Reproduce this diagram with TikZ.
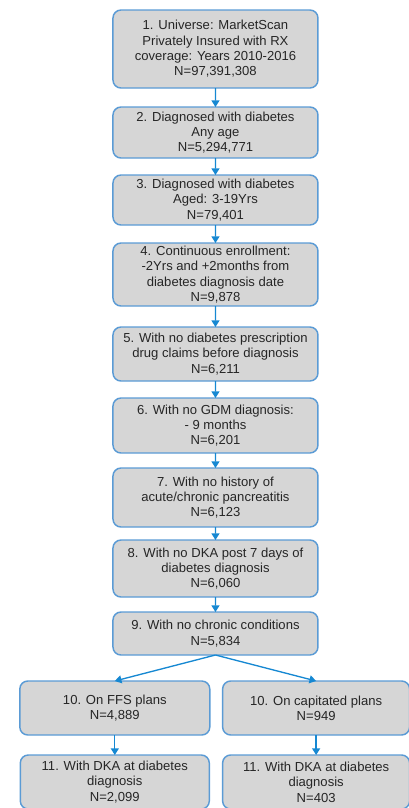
\documentclass[tikz,border=0pt]{standalone}
\usepackage{fontspec}
\setmainfont{Liberation Sans}
\usetikzlibrary{arrows.meta}
\definecolor{boxgray}{RGB}{214,214,214}
\definecolor{boxblue}{RGB}{91,155,213}
\definecolor{arrowblue}{RGB}{22,136,210}

\begin{document}
\begin{tikzpicture}[every node/.style={shape=rectangle, rounded corners=6pt, draw=boxblue, fill=boxgray, line width=1.1pt, outer sep=0pt, align=center, anchor=north, text=black!85, inner xsep=2pt, inner ysep=1pt, minimum width=153.75pt, font=\fontsize{9.8}{11.5}\selectfont},
edge from parent/.style={draw=arrowblue, line width=1pt, -{Triangle[width=6pt,length=5pt]}},
growth parent anchor=south, parent anchor=south, child anchor=north]
\useasboundingbox (0,0) rectangle (306.75pt,-606pt);
\path
node (univ) at (161.6pt,-7.5pt) [minimum height=58.5pt] {1. Universe: MarketScan\\Privately Insured with RX\\coverage: Years 2010-2016\\N=97,391,308}
child[level distance=14.25pt]{ node (anydx) [minimum height=38.25pt] {2. Diagnosed with diabetes\\Any age\\N=5,294,771}
child[level distance=12.75pt]{ node (agedx) [minimum height=37.5pt] {3. Diagnosed with diabetes\\Aged: 3-19Yrs\\N=79,401}
child[level distance=13.5pt]{ node (enroll) [minimum height=47.25pt] {4. Continuous enrollment:\\-2Yrs and +2months from\\diabetes diagnosis date\\N=9,878}
child[level distance=15.75pt]{ node (norx) [minimum height=40.5pt] {5. With no diabetes prescription\\drug claims before diagnosis\\N=6,211}
child[level distance=12.75pt]{ node (nogdm) [minimum height=41.25pt] {6. With no GDM diagnosis:\\- 9 months\\N=6,201}
child[level distance=11.25pt]{ node (nopanc) [minimum height=44.25pt] {7. With no history of\\acute/chronic pancreatitis\\N=6,123}
child[level distance=9.75pt]{ node (nodka) [minimum height=42.75pt] {8. With no DKA post 7 days of\\diabetes diagnosis\\N=6,060}
child[level distance=11.25pt]{ node (nochron) [minimum height=32.25pt] {9. With no chronic conditions\\N=5,834}
[sibling distance=151pt, level distance=19.5pt]
child{ node (ffs) [minimum height=40.5pt, minimum width=142.5pt] {10. On FFS plans\\N=4,889}
[level distance=15pt]
child{ node (ffsdka) [minimum height=40.5pt, minimum width=141.75pt] {11. With DKA at diabetes\\diagnosis\\N=2,099} }
}
child{ node (capit) [minimum height=40.5pt, minimum width=140.25pt] {10. On capitated plans\\N=949}
[level distance=15pt]
child{ node (capdka) [minimum height=40.5pt, minimum width=140.25pt] {11. With DKA at diabetes\\diagnosis\\N=403} }
}
}
}
}
}
}
}
}
};
\end{tikzpicture}
\end{document}
